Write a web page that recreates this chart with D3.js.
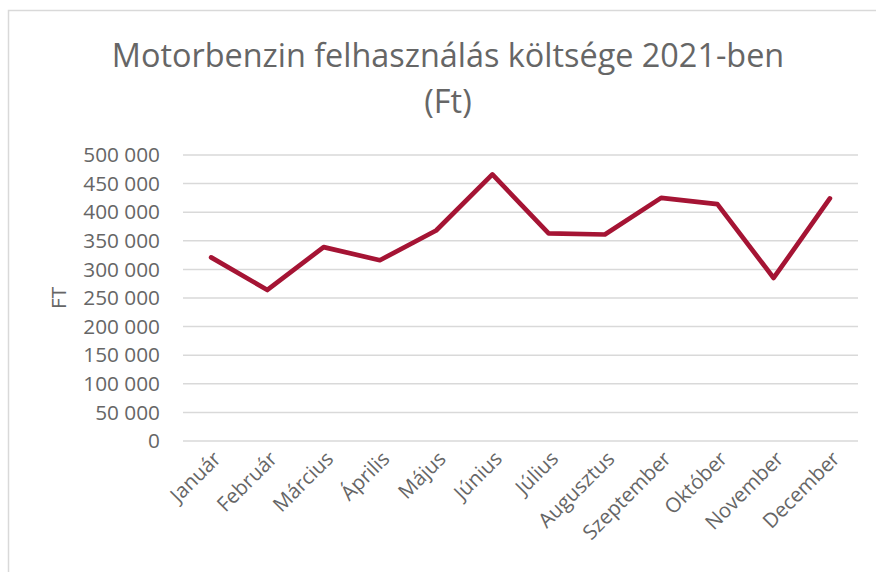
<!DOCTYPE html>
<html>
<head>
<meta charset="utf-8">
<script src="https://cdn.jsdelivr.net/npm/d3@7"></script>
<style>
  html, body { margin: 0; padding: 0; background: #fff; }
  svg { display: block; }
</style>
</head>
<body>
<div id="chart"></div>
<script>
// ─── Data ────────────────────────────────────────────────
const months = ['Január', 'Február', 'Március', 'Április', 'Május', 'Június',
  'Július', 'Augusztus', 'Szeptember', 'Október', 'November', 'December'];
const costs = [321000, 264000, 339000, 316000, 368000, 466000,
  363000, 361000, 425000, 414000, 285000, 424000];
const yTicks = [0, 50000, 100000, 150000, 200000, 250000, 300000, 350000, 400000, 450000, 500000];
const titleLines = ['Motorbenzin felhasználás költsége 2021-ben', '(Ft)'];
const yLabel = 'FT';

// ─── Layout ──────────────────────────────────────────────
const W = 876, H = 572;
const margin = { top: 155, right: 18, bottom: 131, left: 183 };
const plotW = W - margin.left - margin.right;
const plotH = H - margin.top - margin.bottom;
const FONT = '"Open Sans", "DejaVu Sans", sans-serif';
const TXT = '#666666';

const huFormat = d3.formatLocale({ decimal: ',', thousands: ' ', grouping: [3], currency: ['', ' Ft'] }).format(',d');

const svg = d3.select('#chart').append('svg')
  .attr('width', W).attr('height', H);

// chart area border (runs off the right/bottom edge)
svg.append('rect')
  .attr('x', 8.5).attr('y', 10.5)
  .attr('width', W + 10).attr('height', H + 10)
  .attr('fill', '#fff').attr('stroke', '#d9d9d9').attr('stroke-width', 1.5);

// title
svg.append('text')
  .attr('x', 448).attr('y', 67)
  .attr('text-anchor', 'middle')
  .attr('font-family', FONT).attr('font-size', '32.4px').attr('fill', TXT)
  .selectAll('tspan')
  .data(titleLines)
  .enter().append('tspan')
  .attr('x', 448)
  .attr('dy', (d, i) => i === 0 ? 0 : 46)
  .text(d => d);

const g = svg.append('g')
  .attr('transform', `translate(${margin.left},${margin.top})`);

const x = d3.scaleBand().domain(months).range([0, plotW]);
const y = d3.scaleLinear().domain([0, 500000]).range([plotH, 0]);

// gridlines
g.selectAll('line.grid')
  .data(yTicks)
  .enter().append('line')
  .attr('class', 'grid')
  .attr('x1', 0).attr('x2', plotW)
  .attr('y1', d => y(d)).attr('y2', d => y(d))
  .attr('stroke', '#d9d9d9').attr('stroke-width', 1.5);

// y axis labels
const yAxis = g.append('g')
  .call(d3.axisLeft(y).tickValues(yTicks).tickFormat(huFormat).tickSize(0).tickPadding(23));
yAxis.select('.domain').remove();
yAxis.selectAll('text')
  .attr('font-family', FONT).attr('font-size', '20.8px').attr('fill', TXT);

// x axis labels
const xAxis = g.append('g')
  .attr('transform', `translate(0,${plotH})`)
  .call(d3.axisBottom(x).tickSize(0).tickPadding(0));
xAxis.select('.domain').remove();
xAxis.selectAll('text')
  .attr('font-family', FONT).attr('font-size', '20.4px').attr('fill', TXT)
  .attr('text-anchor', 'end')
  .attr('dy', 0)
  .attr('transform', 'translate(11,19) rotate(-45)');

// y axis title
svg.append('text')
  .attr('transform', `translate(66,${margin.top + plotH / 2}) rotate(-90)`)
  .attr('text-anchor', 'middle')
  .attr('font-family', FONT).attr('font-size', '20.8px').attr('fill', TXT)
  .text(yLabel);

// line
const line = d3.line()
  .x((d, i) => x(months[i]) + x.bandwidth() / 2)
  .y(d => y(d));

g.append('path')
  .datum(costs)
  .attr('d', line)
  .attr('fill', 'none')
  .attr('stroke', '#a51434')
  .attr('stroke-width', 4.7)
  .attr('stroke-linejoin', 'round')
  .attr('stroke-linecap', 'round');
</script>
</body>
</html>
